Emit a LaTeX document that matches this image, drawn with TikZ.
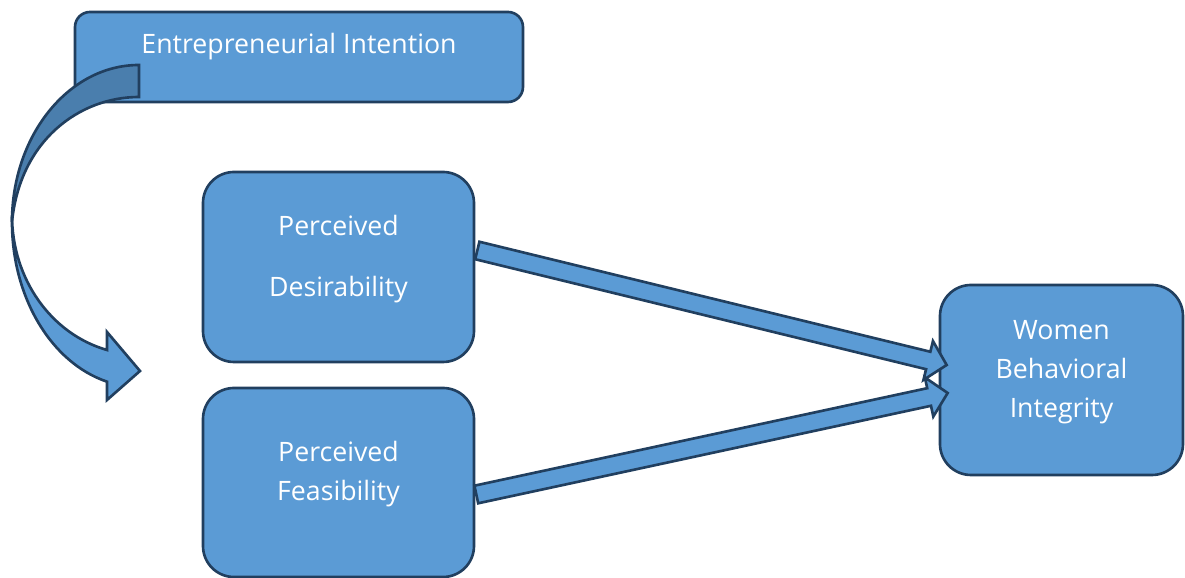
\documentclass[tikz,border=0pt]{standalone}
\usepackage{fontspec}
\setmainfont{Open Sans}
\usetikzlibrary{calc}
\definecolor{boxblue}{HTML}{5B9BD5}
\definecolor{edgeblue}{HTML}{213F5F}
\definecolor{backblue}{HTML}{4A7EAD}
\newcommand{\fatarrow}[2]{%
  \coordinate (hb) at ($(#2)!0.19cm!(#1)$);
  \filldraw[blockarrow] ($(#1)!0.09cm!90:(#2)$) -- ($(hb)!0.09cm!90:(#2)$)
    -- ($(hb)!0.20cm!90:(#2)$) -- (#2) -- ($(hb)!0.20cm!-90:(#2)$)
    -- ($(hb)!0.09cm!-90:(#2)$) -- ($(#1)!0.09cm!-90:(#2)$) -- cycle;}
\begin{document}
\begin{tikzpicture}[
    box/.style={draw=edgeblue,fill=boxblue,line width=0.75pt,rounded corners=0.31cm,inner sep=0pt},
    lbl/.style={text=white,align=center,inner sep=0pt,font=\fontsize{7.6}{11.1}\selectfont},
    blockarrow/.style={draw=edgeblue,fill=boxblue,line width=0.75pt,line join=miter}]
  \useasboundingbox (0,0) rectangle (11.85,-5.78);
  \node[box,rounded corners=0.15cm,minimum width=4.48cm,minimum height=0.9cm] (intent) at (2.99,-0.57) {};
  \node[box,minimum width=2.71cm,minimum height=1.9cm] (desire) at (3.385,-2.67) {};
  \node[box,minimum width=2.71cm,minimum height=1.89cm] (feasib) at (3.385,-4.825) {};
  \node[box,minimum width=2.43cm,minimum height=1.9cm] (women) at (10.615,-3.80) {};
  \node[lbl] (intenttext) at ([yshift=-0.36cm]intent.north) {Entrepreneurial Intention};
  \node[lbl] (desiretext) at ([yshift=0.08cm]desire.center) {Perceived\\[6.3pt]Desirability};
  \node[lbl] (feasibtext) at ([yshift=0.08cm]feasib.center) {Perceived\\Feasibility};
  \node[lbl] (womentext) at ([yshift=0.08cm]women.center) {Women\\Behavioral\\Integrity};
  % curved arrow, back part first
  \filldraw[blockarrow,fill=backblue] (1.39,-0.65) arc[start angle=90,end angle=180,x radius=1.27,y radius=1.57]
    .. controls (0.20,-1.40) and (0.80,-0.97) .. (1.39,-0.97) -- cycle;
  \filldraw[blockarrow] (0.12,-2.22) arc[start angle=180,end angle=255.4,x radius=1.27,y radius=1.65]
    -- (1.07,-4.00) -- (1.40,-3.71) -- (1.07,-3.32) -- (1.07,-3.50)
    arc[start angle=255.4,end angle=180,x radius=1.27,y radius=1.39] -- cycle;
  \coordinate (d1) at ([xshift=0.02cm,yshift=0.165cm]desire.east);
  \coordinate (w1) at ([xshift=0.08cm,yshift=0.15cm]women.west);
  \coordinate (f1) at ([xshift=0.01cm,yshift=-0.12cm]feasib.east);
  \coordinate (w2) at ([xshift=0.09cm,yshift=-0.13cm]women.west);
  \fatarrow{d1}{w1}
  \fatarrow{f1}{w2}
\end{tikzpicture}
\end{document}
